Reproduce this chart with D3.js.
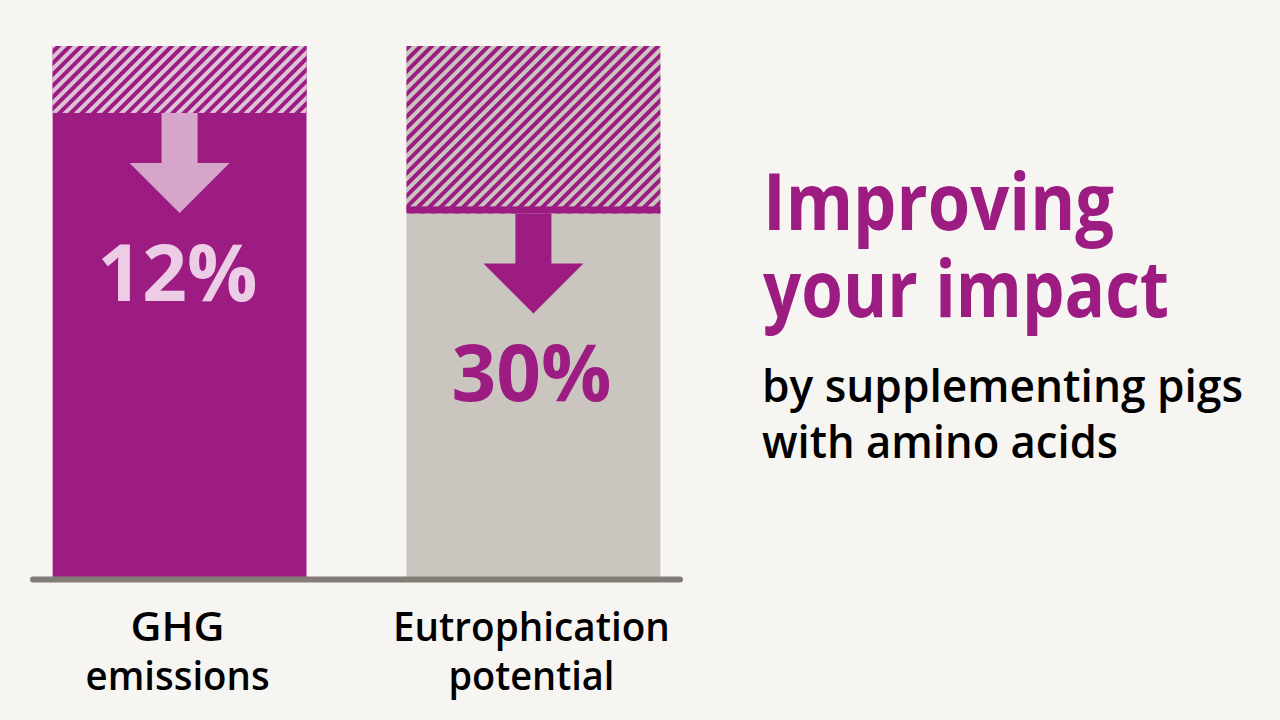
<!DOCTYPE html>
<html>
<head>
<meta charset="utf-8">
<script src="https://cdn.jsdelivr.net/npm/d3@7"></script>
<style>
  html, body { margin: 0; padding: 0; background: #f6f5f1; }
  svg { display: block; font-family: "Open Sans", "Noto Sans", sans-serif; }
</style>
</head>
<body>
<div id="chart"></div>
<script>
// Reduction in environmental impact (%) when supplementing pigs with amino acids
const categories = ["GHG emissions", "Eutrophication potential"];
const reductions = [12, 30];
const labelLines = [["GHG", "emissions"], ["Eutrophication", "potential"]];
const titleLines = ["Improving", "your impact"];
const subtitleLines = ["by supplementing pigs", "with amino acids"];

const W = 1280, H = 720;
const PURPLE = "#9c1c82";
const GREY = "#cbc5c0";
const baseY = 578;

// widths of the lines of text as set in the original (px)
const labelWidths = [[94, 184], [277, 166]];
const titleWidths = [351, 406];
const subtitleWidths = [481, 356];

// look of each bar
const looks = [
  { solid: PURPLE, stripe: "#dcc3d8", arrow: "#d6a5ca", text: "#edcde5", band: false },
  { solid: GREY, stripe: "#cac5c0", arrow: PURPLE, text: PURPLE, band: true }
];

const svg = d3.select("#chart").append("svg")
  .attr("width", W)
  .attr("height", H);

svg.append("rect").attr("width", W).attr("height", H).attr("fill", "#f6f5f1");

const x = d3.scaleBand()
  .domain(categories)
  .range([30, 683])
  .paddingInner(0.2825)
  .paddingOuter(0.064);

// the bars are cut off at the baseline, the scale keeps going below it
const y = d3.scaleLinear().domain([0, 100]).range([604, 46]);

// hatch patterns
const defs = svg.append("defs");
looks.forEach((lk, i) => {
  const p = defs.append("pattern")
    .attr("id", "hatch" + i)
    .attr("patternUnits", "userSpaceOnUse")
    .attr("width", 8)
    .attr("height", 8)
    .attr("patternTransform", "rotate(45)");
  p.append("rect").attr("width", 8).attr("height", 8).attr("fill", lk.stripe);
  p.append("rect").attr("width", 4).attr("height", 8).attr("fill", PURPLE);
});

const bars = svg.selectAll(".bar")
  .data(categories)
  .enter()
  .append("g")
  .attr("class", "bar");

// solid part
bars.append("rect")
  .attr("x", d => x(d))
  .attr("y", y(100))
  .attr("width", x.bandwidth())
  .attr("height", baseY - y(100))
  .attr("fill", (d, i) => looks[i].solid);

// hatched part = the reduction
bars.append("rect")
  .attr("x", d => x(d))
  .attr("y", y(100))
  .attr("width", x.bandwidth())
  .attr("height", (d, i) => y(100 - reductions[i]) - y(100))
  .attr("fill", (d, i) => `url(#hatch${i})`);

// edge line under the hatch (only shows on the grey bar)
bars.filter((d, i) => looks[i].band)
  .append("rect")
  .attr("x", d => x(d))
  .attr("y", d => y(100 - reductions[categories.indexOf(d)]) - 7)
  .attr("width", x.bandwidth())
  .attr("height", 7)
  .attr("fill", PURPLE);

// down arrows
const shaftW = 36, shaftH = 50, headW = 100, headH = 50;
bars.append("path")
  .attr("d", (d, i) => {
    const cx = x(d) + x.bandwidth() / 2;
    const top = y(100 - reductions[i]);
    return d3.line()([
      [cx - shaftW / 2, top],
      [cx + shaftW / 2, top],
      [cx + shaftW / 2, top + shaftH],
      [cx + headW / 2, top + shaftH],
      [cx, top + shaftH + headH],
      [cx - headW / 2, top + shaftH],
      [cx - shaftW / 2, top + shaftH]
    ]) + "Z";
  })
  .attr("fill", (d, i) => looks[i].arrow);

// percentage
bars.append("text")
  .attr("x", d => x(d) + x.bandwidth() / 2 - 2)
  .attr("y", (d, i) => y(100 - reductions[i]) + shaftH + headH + 88)
  .attr("text-anchor", "middle")
  .attr("font-size", 79)
  .attr("font-weight", 700)
  .attr("textLength", 160)
  .attr("lengthAdjust", "spacingAndGlyphs")
  .attr("fill", (d, i) => looks[i].text)
  .text((d, i) => reductions[i] + "%");

// baseline
svg.append("line")
  .attr("x1", x.range()[0] + 3)
  .attr("x2", x.range()[1] - 3)
  .attr("y1", baseY + 1.5)
  .attr("y2", baseY + 1.5)
  .attr("stroke", "#837c77")
  .attr("stroke-width", 6)
  .attr("stroke-linecap", "round");

// category labels
bars.each(function (d, i) {
  const cx = x(d) + x.bandwidth() / 2;
  labelLines[i].forEach((t, j) => {
    d3.select(this).append("text")
      .attr("x", cx - 2)
      .attr("y", 641 + j * 49)
      .attr("text-anchor", "middle")
      .attr("font-size", 40)
      .attr("font-weight", 600)
      .attr("textLength", labelWidths[i][j])
      .attr("lengthAdjust", "spacingAndGlyphs")
      .attr("fill", "#000")
      .text(t);
  });
});

// title block
svg.append("g")
  .selectAll("text")
  .data(titleLines)
  .enter()
  .append("text")
  .attr("x", 763)
  .attr("y", (d, i) => 230 + i * 87)
  .attr("font-size", 78)
  .attr("font-weight", 700)
  .attr("textLength", (d, i) => titleWidths[i])
  .attr("lengthAdjust", "spacingAndGlyphs")
  .attr("fill", PURPLE)
  .text(d => d);

svg.append("g")
  .selectAll("text")
  .data(subtitleLines)
  .enter()
  .append("text")
  .attr("x", 762)
  .attr("y", (d, i) => 402 + i * 56)
  .attr("font-size", 46)
  .attr("font-weight", 600)
  .attr("textLength", (d, i) => subtitleWidths[i])
  .attr("lengthAdjust", "spacingAndGlyphs")
  .attr("fill", "#000")
  .text(d => d);
</script>
</body>
</html>
